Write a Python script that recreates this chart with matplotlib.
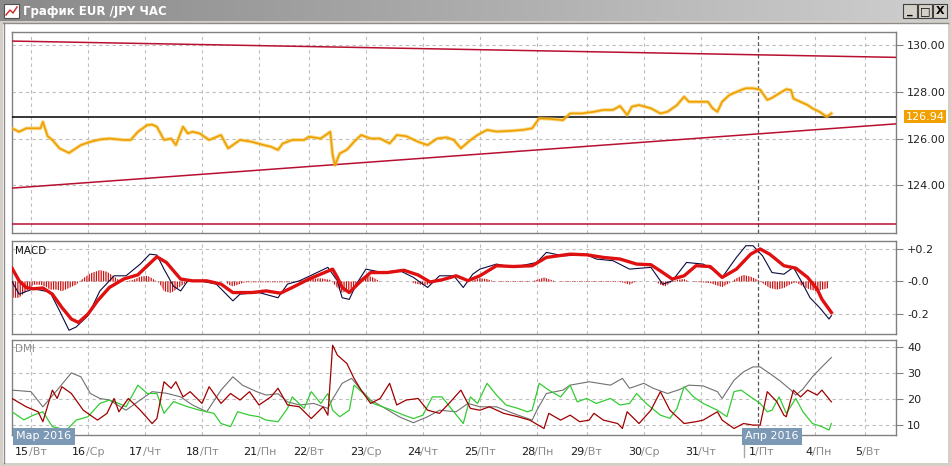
import matplotlib
matplotlib.use('Agg')
import matplotlib.pyplot as plt
import numpy as np
from matplotlib import transforms
from matplotlib.patches import Rectangle

plt.rcParams['font.family'] = ['DejaVu Sans']
plt.rcParams['hatch.linewidth'] = 0.9

# ---------------- data ----------------
title = "График EUR /JPY ЧАС"
day_hours = [0, 24, 48, 72, 96, 117, 141, 165, 189, 213, 234, 258, 282, 306, 330, 351]
day_nums = ["15", "16", "17", "18", "21", "22", "23", "24", "25", "28", "29", "30", "31", "1", "4", "5"]
day_names = ["Вт", "Ср", "Чт", "Пт", "Пн", "Вт", "Ср", "Чт", "Пт", "Пн", "Вт", "Ср", "Чт", "Пт", "Пн", "Вт"]
month_labels = ["Мар 2016", "Апр 2016"]
month_start_hour = 306

price_ticks = [130.0, 128.0, 126.0, 124.0]
macd_ticks = [0.2, 0.0, -0.2]
macd_tick_labels = ["+0.2", "-0.0", "-0.2"]
dmi_ticks = [40, 30, 20, 10]

last_price = 126.94
upper_trend = [(-8, 130.19), (364, 129.49)]
lower_trend = [(-8, 123.87), (364, 126.63)]
support_level = 122.31

price = [(-8,126.44),(-5,126.29),(-2,126.44),(4,126.44),(5,126.72),(7,126.10),(9,125.94),(12,125.58),
         (16,125.38),(21,125.72),(25,125.86),(29,125.96),(33,126.00),(39,125.94),(42,125.94),(45,126.29),
         (49,126.58),(51,126.60),(53,126.51),(56,125.94),(59,126.00),(61,125.72),(64,126.51),(66,126.22),
         (68,126.29),(71,126.22),(75,125.94),(80,126.15),(83,125.58),(85,125.72),(88,125.94),(93,125.86),
         (98,125.72),(101,125.65),(104,125.51),(106,125.79),(110,125.94),(115,125.94),(117,126.08),
         (122,126.00),(126,126.29),(127,125.30),(128,124.85),(130,125.36),(133,125.52),(136,125.86),
         (139,126.15),(143,126.00),(147,126.00),(151,125.79),(154,126.15),(158,126.10),(163,125.86),
         (167,125.72),(171,126.00),(175,126.05),(178,125.94),(181,125.58),(185,125.93),(188,126.15),
         (192,126.37),(196,126.30),(202,126.33),(207,126.37),(211,126.44),(214,126.87),(219,126.84),
         (224,126.79),(227,127.08),(232,127.08),(237,127.15),(241,127.23),(245,127.23),(248,127.40),
         (251,127.01),(253,127.37),(256,127.44),(261,127.30),(265,127.08),(268,127.15),(272,127.44),
         (275,127.80),(277,127.58),(282,127.58),(285,127.58),(287,127.30),(289,127.15),(291,127.58),
         (294,127.87),(299,128.09),(301,128.16),(304,128.16),(307,128.10),(310,127.66),(312,127.75),
         (315,127.94),(318,128.12),(320,128.08),(321,127.72),(324,127.58),(327,127.44),(329,127.30),
         (332,127.15),(335,126.94),(337,127.08)]

macd_line = [(-8,0.0),(-5,-0.078),(1,-0.045),(8,-0.065),(12,-0.18),(16,-0.30),(19,-0.28),(24,-0.21),
             (29,-0.058),(35,0.035),(40,0.035),(46,0.107),(50,0.168),(53,0.163),(56,0.076),(60,-0.029),
             (63,-0.058),(66,0.004),(71,0.004),(78,-0.016),(85,-0.119),(88,-0.078),(96,-0.068),(104,-0.10),
             (108,-0.016),(113,0.004),(119,0.045),(125,0.087),(129,0.004),(131,-0.10),(134,-0.11),
             (137,-0.016),(141,0.076),(148,0.055),(155,0.069),(161,0.025),(167,-0.037),(172,0.035),
             (178,0.035),(182,-0.037),(186,0.045),(189,0.076),(196,0.107),(203,0.087),(213,0.117),
             (217,0.179),(224,0.158),(234,0.164),(238,0.138),(245,0.128),(252,0.076),(261,0.087),
             (266,-0.017),(270,0.004),(276,0.117),(283,0.107),(289,0.055),(291,0.025),(297,0.148),
             (301,0.22),(304,0.22),(308,0.158),(312,0.055),(317,0.045),(321,0.087),(325,-0.016),
             (328,-0.10),(332,-0.16),(336,-0.231),(337,-0.21)]

macd_signal = [(-8,0.082),(-5,0.004),(-2,-0.037),(1,-0.045),(5,-0.040),(9,-0.078),(13,-0.16),(17,-0.231),
               (20,-0.252),(24,-0.20),(28,-0.119),(33,-0.037),(39,0.015),(45,0.041),(49,0.097),(53,0.152),
               (57,0.117),(63,0.015),(68,0.004),(74,0.004),(80,-0.016),(85,-0.068),(93,-0.068),(99,-0.058),
               (105,-0.072),(110,-0.037),(117,0.015),(127,0.076),(129,0.025),(131,-0.037),(134,-0.068),
               (139,0.004),(143,0.055),(150,0.055),(157,0.069),(163,0.040),(168,-0.003),(173,0.010),
               (179,0.035),(184,0.005),(189,0.035),(196,0.097),(203,0.092),(211,0.097),(217,0.148),
               (227,0.168),(234,0.164),(241,0.148),(248,0.138),(255,0.107),(261,0.103),(266,0.055),
               (270,0.015),(275,0.035),(280,0.097),(286,0.092),(291,0.025),(297,0.076),(303,0.168),
               (307,0.200),(311,0.168),(317,0.097),(322,0.082),(327,0.025),(331,-0.047),(333,-0.109),
               (337,-0.191)]

macd_hist = [(-8,-0.10),(-5,-0.10),(-2,-0.06),(1,-0.02),(4,-0.02),(6,-0.03),(8,-0.05),(11,-0.05),(13,-0.06),
             (16,-0.04),(19,-0.02),(22,0.02),(25,0.05),(29,0.07),(32,0.06),(35,0.03),(37,0.01),(40,0.0),
             (43,0.01),(46,0.03),(49,0.035),(51,0.02),(54,-0.01),(56,-0.06),(59,-0.07),(62,-0.04),
             (65,-0.01),(67,0.0),(82,0.0),(83,-0.02),(85,-0.03),(87,-0.02),(90,-0.005),(109,-0.005),
             (113,0.005),(117,0.015),(122,0.02),(126,0.01),(129,-0.04),(131,-0.07),(134,-0.05),(137,-0.02),
             (139,0.02),(141,0.04),(144,0.025),(147,0.0),(160,0.0),(161,-0.01),(164,-0.02),(167,-0.02),
             (169,0.0),(185,0.0),(189,0.02),(192,0.015),(194,0.005),(197,-0.003),(210,-0.003),(213,0.01),
             (216,0.025),(218,0.015),(221,0.0),(225,-0.003),(248,-0.003),(250,-0.01),(252,-0.02),
             (254,-0.005),(256,0.0),(263,0.0),(265,-0.02),(267,-0.03),(269,-0.01),(272,0.01),(275,0.015),
             (277,0.0),(282,-0.005),(286,-0.01),(289,-0.025),(291,-0.035),(294,-0.01),(297,0.02),
             (300,0.04),(303,0.03),(306,0.01),(308,-0.01),(311,-0.04),(314,-0.05),(317,-0.04),
             (320,-0.015),(322,-0.005),(325,-0.03),(328,-0.05),(331,-0.06),(333,-0.05),(336,-0.04)]

adx = [(-8,23.4),(0,22.8),(5,17.0),(11,23.4),(17,30.0),(21,28.5),(25,22.1),(29,20.2),(33,19.6),(40,15.7),
       (46,19.6),(51,22.8),(57,22.2),(63,20.8),(68,17.7),(74,15.1),(80,23.4),(85,28.5),(89,25.3),(95,22.8),
       (99,21.5),(104,22.0),(108,18.9),(113,17.7),(119,18.3),(125,16.4),(127,20.0),(131,26.0),(135,27.9),
       (139,23.4),(143,19.6),(148,17.0),(155,13.2),(161,10.9),(167,13.2),(172,15.7),(179,15.1),(184,18.3),
       (189,17.0),(196,17.0),(203,14.5),(211,11.9),(213,15.7),(217,22.1),(224,23.4),(227,25.3),(235,26.6),
       (244,25.3),(249,27.9),(252,24.1),(258,26.0),(262,24.1),(268,22.1),(273,23.6),(277,25.3),(283,25.0),
       (289,22.8),(291,20.2),(296,27.2),(300,30.4),(304,32.3),(307,32.3),(311,29.8),(315,27.2),(320,23.4),
       (322,21.5),(325,23.8),(329,28.5),(333,32.3),(337,35.9)]

di_minus = [(-8,20.2),(-2,17.0),(3,15.1),(5,11.3),(9,23.4),(11,20.2),(13,24.7),(17,22.1),(22,15.7),(28,11.9),
            (32,14.5),(35,20.2),(37,15.1),(41,20.2),(46,15.7),(51,10.6),(53,12.5),(56,26.6),(59,24.1),
            (61,26.6),(64,20.8),(67,22.8),(72,18.3),(75,24.7),(80,18.3),(84,22.1),(88,19.6),(92,22.8),
            (96,17.7),(101,20.8),(104,24.1),(108,17.7),(113,17.0),(118,12.5),(123,17.0),(125,13.8),
            (127,40.6),(129,36.8),(133,33.6),(136,27.9),(139,23.4),(143,18.3),(147,20.2),(151,26.0),
            (154,17.7),(158,19.6),(163,20.2),(167,15.7),(172,14.5),(176,18.3),(181,23.4),(185,16.4),
            (189,15.7),(193,17.0),(199,14.5),(205,13.2),(210,11.9),(216,8.7),(218,14.5),(223,11.9),
            (227,13.8),(231,11.3),(235,11.9),(237,14.5),(241,11.9),(247,10.6),(249,8.7),(251,15.1),
            (256,10.6),(261,15.7),(265,22.8),(269,15.7),(275,10.6),(280,11.3),(283,11.9),(289,15.1),
            (291,11.9),(296,8.7),(300,10.6),(304,10.0),(307,10.0),(310,22.8),(314,19.0),(317,13.8),
            (318,13.2),(321,23.4),(324,20.8),(327,23.4),(331,21.5),(333,23.4),(337,18.9)]

di_plus = [(-8,15.1),(-3,12.0),(1,13.8),(5,15.1),(9,9.4),(15,8.1),(19,11.9),(24,13.2),(29,18.3),(33,19.6),
           (37,18.3),(40,17.0),(45,25.3),(49,22.1),(53,22.1),(56,14.5),(60,19.0),(66,17.0),(71,15.7),
           (77,14.5),(80,10.6),(84,9.4),(87,15.1),(92,13.8),(96,13.2),(99,11.9),(104,11.3),(108,16.4),
           (110,20.8),(115,16.4),(118,22.8),(122,18.3),(125,22.1),(127,15.7),(130,13.2),(134,15.7),
           (136,25.3),(140,22.1),(144,18.3),(148,17.0),(152,15.7),(157,13.8),(161,12.5),(165,13.8),
           (169,20.8),(173,20.8),(178,15.1),(182,10.6),(185,20.8),(188,18.3),(192,26.0),(196,21.5),
           (200,17.7),(205,16.4),(209,15.1),(211,15.7),(214,26.0),(218,23.4),(223,20.8),(227,25.3),
           (230,18.9),(234,20.2),(238,18.3),(244,20.2),(248,17.7),(252,18.3),(255,22.1),(259,18.3),
           (265,13.8),(269,12.6),(272,16.4),(275,24.7),(279,20.8),(283,18.3),(289,15.7),(293,13.2),
           (296,22.8),(299,23.4),(303,20.8),(307,18.3),(310,15.1),(312,15.7),(315,20.8),(318,14.5),
           (322,20.2),(325,15.1),(329,10.6),(333,9.4),(336,8.1),(337,10.6)]

# ---------------- layout ----------------
W, H = 951, 466
fig = plt.figure(figsize=(W / 100, H / 100), dpi=100)
fig.patch.set_facecolor('white')


def box(x0, y0, x1, y1):
    return [x0 / W, 1 - y1 / H, (x1 - x0) / W, (y1 - y0) / H]


# window chrome
bg = fig.add_axes([0, 0, 1, 1], zorder=-10)
bg.set_xlim(0, W)
bg.set_ylim(H, 0)
bg.axis('off')
grad = np.linspace(0, 1, 256)[None, :]
bg.imshow(grad, extent=(0, W, 21, 0), aspect='auto',
          cmap=matplotlib.colors.LinearSegmentedColormap.from_list('tb', ['#8a8a8a', '#cfcfcf']))
bg.add_patch(Rectangle((0, 21), W, 2, color='#d4d0c8', lw=0))
bg.plot([3, W - 3], [23, 23], color='#8c8c8c', lw=1)
bg.add_patch(Rectangle((0, 21), 3, H - 21, color='#d4d0c8', lw=0))
bg.plot([3.5, 3.5], [23, H - 3], color='#8c8c8c', lw=1)
bg.add_patch(Rectangle((W - 3, 21), 3, H - 21, color='#d4d0c8', lw=0))
bg.add_patch(Rectangle((0, H - 3), W, 3, color='#d4d0c8', lw=0))
# title icon
bg.add_patch(Rectangle((4, 4), 15, 14, facecolor='white', edgecolor='#505050', lw=0.8))
bg.plot([6, 10, 13, 17], [15, 10, 13, 7], color='#cc2222', lw=1)
bg.text(23, 11, title, color='white', fontsize=8.5, fontweight='bold', va='center', ha='left')
# window buttons
for bx, glyph in [(903, '_'), (918, '□'), (933, 'X')]:
    bg.add_patch(Rectangle((bx, 4), 14, 14, facecolor='#d4d0c8', edgecolor='#404040', lw=0.8))
    bg.text(bx + 7, 11.5, glyph, fontsize=8, fontweight='bold', ha='center', va='center', color='black')
# small separator under the April label
bg.plot([743.5, 743.5], [443, 457], color='#a8a8a8', lw=1)

ax_p = fig.add_axes(box(12, 32, 896, 233))
ax_m = fig.add_axes(box(12, 241, 896, 334))
ax_d = fig.add_axes(box(12, 340, 896, 435))

xmin, xmax = -8, 364.2
grid_kw = dict(color='#bdbdbd', lw=0.8, dashes=(3, 3))
for ax in (ax_p, ax_m, ax_d):
    ax.set_xlim(xmin, xmax)
    ax.set_facecolor('white')
    for s in ax.spines.values():
        s.set_color('#808080')
        s.set_linewidth(1)
    ax.set_xticks([])
    ax.yaxis.tick_right()
    ax.tick_params(axis='y', length=5, color='#808080', labelsize=8, labelcolor='#222222', pad=3)
    for dh in day_hours:
        if dh == month_start_hour:
            ax.axvline(dh, color='#555555', lw=0.9, dashes=(3, 2), zorder=1)
        else:
            ax.axvline(dh, zorder=1, **grid_kw)

# ---- price panel ----
ax_p.set_ylim(121.94, 130.58)
ax_p.set_yticks(price_ticks)
ax_p.set_yticklabels([f"{v:.2f}" for v in price_ticks])
for v in price_ticks:
    ax_p.axhline(v, zorder=1, **grid_kw)
red = '#b81030'
ax_p.plot(*zip(*upper_trend), color=red, lw=1.1, zorder=3)
ax_p.plot(*zip(*lower_trend), color=red, lw=1.1, zorder=3)
ax_p.axhline(support_level, color=red, lw=1.1, zorder=3)
ax_p.axhline(last_price, color='black', lw=1.1, zorder=3)
ph, pv = zip(*price)
ax_p.plot(ph, pv, color='#f5c040', lw=2.6, zorder=4, alpha=0.6)
ax_p.plot(ph, pv, color='#eea000', lw=1.2, zorder=5)
ax_p.annotate(f"{last_price:.2f}", xy=(1.0, last_price),
              xycoords=transforms.blended_transform_factory(ax_p.transAxes, ax_p.transData),
              xytext=(7, 0), textcoords='offset points', va='center', ha='left', fontsize=8,
              color='white', bbox=dict(boxstyle='square,pad=0.15', facecolor='#f0a000', edgecolor='none'),
              annotation_clip=False)

# ---- MACD panel ----
ax_m.set_ylim(-0.323, 0.249)
ax_m.set_yticks(macd_ticks)
ax_m.set_yticklabels(macd_tick_labels)
for v in macd_ticks:
    ax_m.axhline(v, zorder=1, **grid_kw)
hh, hv = zip(*macd_hist)
ax_m.fill_between(hh, 0, hv, facecolor='none', edgecolor='#c81010', hatch='|' * 7, lw=0, zorder=2)
mh, mv = zip(*macd_line)
ax_m.plot(mh, mv, color='#0a0a40', lw=0.8, zorder=3)
sh, sv = zip(*macd_signal)
ax_m.plot(sh, sv, color='#e01010', lw=2.4, zorder=4)
ax_m.text(0.003, 0.95, "MACD", transform=ax_m.transAxes, fontsize=7.5, va='top', ha='left', color='#101010')

# ---- DMI panel ----
ax_d.set_ylim(6.2, 42.6)
ax_d.set_yticks(dmi_ticks)
ax_d.set_yticklabels([str(v) for v in dmi_ticks])
for v in dmi_ticks:
    ax_d.axhline(v, zorder=1, **grid_kw)
ax_d.plot(*zip(*adx), color='#707070', lw=0.8, zorder=3)
ax_d.plot(*zip(*di_plus), color='#33cc33', lw=0.9, zorder=4)
ax_d.plot(*zip(*di_minus), color='#a00000', lw=0.9, zorder=5)
ax_d.text(0.003, 0.96, "DMI", transform=ax_d.transAxes, fontsize=7.5, va='top', ha='left', color='#909090')

# date labels
tr = transforms.blended_transform_factory(ax_d.transData, fig.transFigure)
ylab = 1 - 452 / H
for dh, num, name in zip(day_hours, day_nums, day_names):
    ax_d.text(dh, ylab, num, transform=transforms.offset_copy(tr, fig=fig, x=-2, y=0, units='dots'),
              ha='right', va='center', fontsize=8, color='#1a1a1a', clip_on=False)
    ax_d.text(dh, ylab, "/" + name, transform=transforms.offset_copy(tr, fig=fig, x=-2.5, y=0, units='dots'),
              ha='left', va='center', fontsize=8, color='#8a8a8a', clip_on=False)

# month labels
ax_d.annotate(month_labels[0], xy=(0, 0), xycoords='axes fraction', xytext=(3, -1),
              textcoords='offset points', ha='left', va='center', fontsize=8, color='white',
              bbox=dict(boxstyle='square,pad=0.3', facecolor='#7b98b4', edgecolor='none'),
              annotation_clip=False, zorder=10)
ax_d.annotate(month_labels[1], xy=(month_start_hour, 0), xycoords=('data', 'axes fraction'),
              xytext=(-9, -1), textcoords='offset points', ha='left', va='center', fontsize=8,
              color='white', bbox=dict(boxstyle='square,pad=0.3', facecolor='#7b98b4', edgecolor='none'),
              annotation_clip=False, zorder=10)

fig.savefig('out.png', dpi=100, facecolor=fig.get_facecolor())
